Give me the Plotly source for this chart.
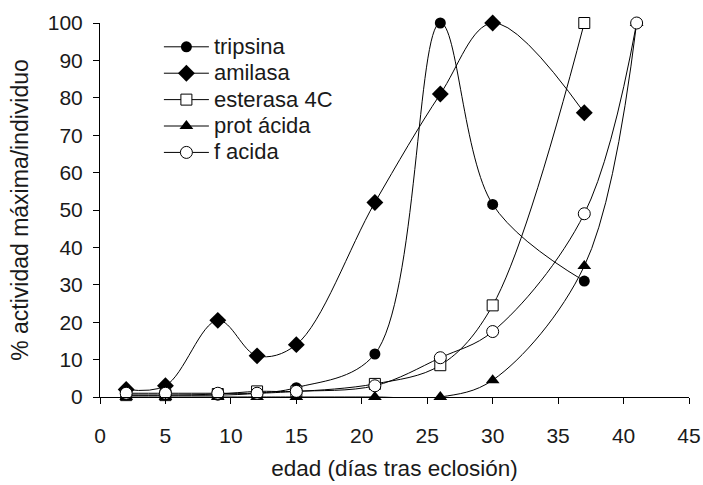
import plotly.graph_objects as go

# Days after hatching
dias = [2, 5, 9, 12, 15, 21, 26, 30, 37]
dias_largo = [2, 5, 9, 12, 15, 21, 26, 30, 37, 41]

# % of maximum activity per individual
tripsina = [0.5, 0.5, 0.5, 1, 2.5, 11.5, 100, 51.5, 31]
amilasa = [2, 3, 20.5, 11, 14, 52, 81, 100, 76]
esterasa_4c = [0.5, 0.5, 0.8, 1.5, 1.5, 3.5, 8.5, 24.5, 100]
prot_acida = [0, 0, 0, 0, 0, 0, 0, 4.5, 35, 100]
f_acida = [1, 1, 1, 1, 1.5, 3, 10.5, 17.5, 49, 100]

x_ticks = [0, 5, 10, 15, 20, 25, 30, 35, 40, 45]
y_ticks = [0, 10, 20, 30, 40, 50, 60, 70, 80, 90, 100]

FONT = "Liberation Sans, Arial, sans-serif"
TEXT = "#1a1a1a"

series = [
    ("tripsina", dias, tripsina, dict(symbol="circle", size=11, color="black")),
    ("amilasa", dias, amilasa, dict(symbol="diamond", size=13, color="black")),
    ("esterasa 4C", dias, esterasa_4c,
     dict(symbol="square", size=11, color="white", line=dict(color="black", width=1))),
    ("prot ácida", dias_largo, prot_acida, dict(symbol="triangle-up", size=12, color="black")),
    ("f acida", dias_largo, f_acida,
     dict(symbol="circle", size=12, color="white", line=dict(color="black", width=1))),
]

fig = go.Figure()
for name, xs, ys, marker in series:
    fig.add_trace(go.Scatter(
        x=xs, y=ys, mode="lines+markers",
        # legend rows are spaced for an 18px font while the label itself is larger
        name=f"<span style='font-size:22px'>{name}</span>",
        line=dict(color="black", width=1, shape="spline", smoothing=1),
        marker=marker, cliponaxis=False,
    ))

fig.update_layout(
    width=703, height=485,
    margin=dict(l=100, r=14, t=23, b=88),
    paper_bgcolor="white", plot_bgcolor="white",
    font=dict(family=FONT, size=21, color=TEXT),
    showlegend=True,
    legend=dict(
        x=0.1, y=0.985, xanchor="left", yanchor="top",
        bgcolor="rgba(0,0,0,0)", font=dict(size=18, color=TEXT),
        itemwidth=45, tracegroupgap=0,
    ),
    xaxis=dict(
        range=[0, 45], tickvals=x_ticks, showgrid=False, zeroline=False,
        showline=True, linecolor="black", linewidth=1, automargin=False,
        ticks="outside", ticklen=6, tickcolor="black",
        ticklabelstandoff=14,
        title=dict(text="edad (días tras eclosión)", font=dict(size=22.5), standoff=14),
    ),
    yaxis=dict(
        range=[0, 100], tickvals=y_ticks, showgrid=False, zeroline=False,
        showline=True, linecolor="black", linewidth=1, automargin=False,
        ticks="outside", ticklen=6, tickcolor="black",
        ticklabelstandoff=6,
        title=dict(text="% actividad máxima/individuo", font=dict(size=23), standoff=12),
    ),
)

fig.write_html("out.html")
